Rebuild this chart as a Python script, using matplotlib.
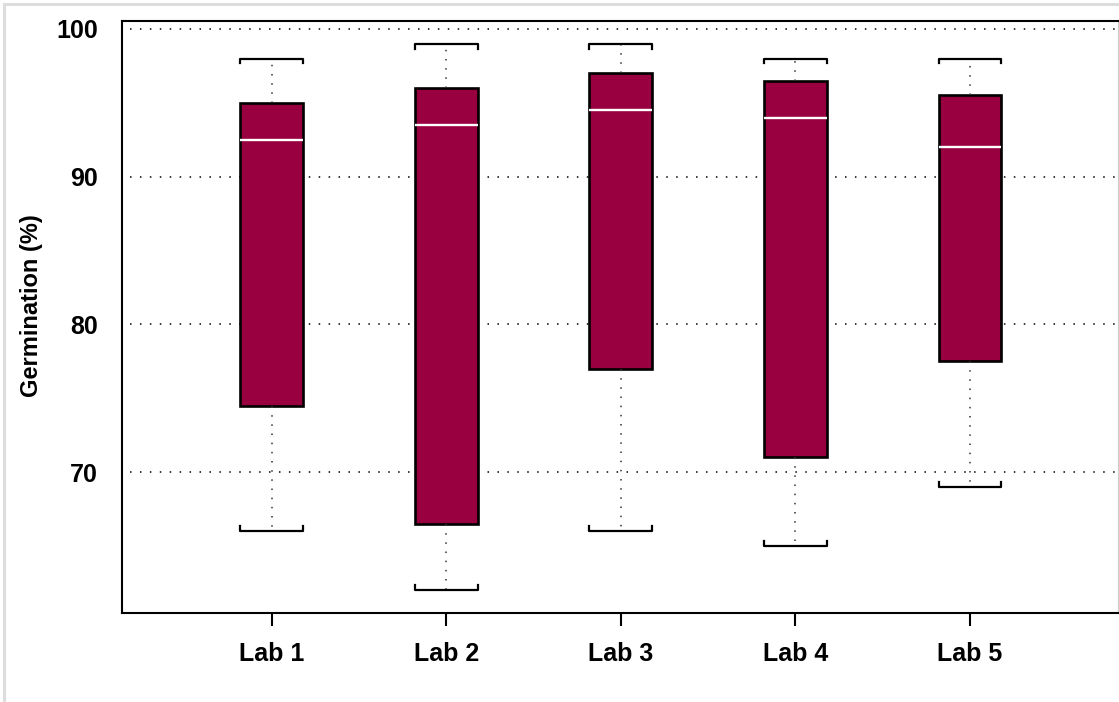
import matplotlib
matplotlib.use('Agg')
import matplotlib.pyplot as plt
from matplotlib.lines import Line2D

# values
labs = ['Lab 1', 'Lab 2', 'Lab 3', 'Lab 4', 'Lab 5']
whisker_low = [66.0, 62.0, 66.0, 65.0, 69.0]
q1 = [74.5, 66.5, 77.0, 71.0, 77.5]
median = [92.5, 93.5, 94.5, 94.0, 92.0]
q3 = [95.0, 96.0, 97.0, 96.5, 95.5]
whisker_high = [98.0, 99.0, 99.0, 98.0, 98.0]
y_ticks = [70, 80, 90, 100]

BOX_COLOR = '#990040'
FONT = ['Liberation Sans Narrow', 'Liberation Sans', 'DejaVu Sans']

plt.rcParams['font.family'] = FONT
plt.rcParams['font.weight'] = 'bold'

fig = plt.figure(figsize=(11.19, 7.02), dpi=100)
ax = fig.add_axes([0.1088, 0.1272, 0.8906, 0.8433])

stats = []
for i, lab in enumerate(labs):
    stats.append({'label': lab, 'whislo': whisker_low[i], 'q1': q1[i],
                  'med': median[i], 'q3': q3[i], 'whishi': whisker_high[i]})

positions = list(range(1, len(labs) + 1))
box_w = 0.36

# grid first so the boxes sit on top
for y in y_ticks:
    ax.axhline(y, xmin=0.008, color='black', lw=1.1, linestyle=(0, (1, 5.5)), zorder=1)

ax.bxp(stats, positions=positions, widths=box_w, patch_artist=True,
       showfliers=False, showcaps=False,
       boxprops=dict(facecolor=BOX_COLOR, edgecolor='black', linewidth=1.9),
       medianprops=dict(color='white', linewidth=1.7),
       whiskerprops=dict(color='#333333', linewidth=1.1, linestyle=(0, (1, 5))),
       zorder=3)

# bracket shaped caps
tip = 0.33
for x, lo, hi in zip(positions, whisker_low, whisker_high):
    x0, x1 = x - box_w / 2, x + box_w / 2
    ax.plot([x0, x0, x1, x1], [hi - tip, hi, hi, hi - tip], color='black',
            lw=1.6, solid_joinstyle='round', zorder=4)
    ax.plot([x0, x0, x1, x1], [lo + tip, lo, lo, lo + tip], color='black',
            lw=1.6, solid_joinstyle='round', zorder=4)

ax.set_xlim(0.14, 5.85)
ax.set_ylim(60.48, 100.56)
ax.set_yticks(y_ticks)
ax.set_xticks(positions)
ax.set_xticklabels(labs)
ax.tick_params(axis='y', length=0, pad=17, labelsize=18)
ax.tick_params(axis='x', length=9, width=1.5, pad=12, labelsize=18)
ax.set_ylabel('Germination (%)', fontsize=17, fontweight='bold')
ax.yaxis.set_label_coords(-0.079, 0.518)

for side in ['left', 'top', 'bottom']:
    ax.spines[side].set_linewidth(1.5)
    ax.spines[side].set_color('black')
ax.spines['right'].set_color('#cccccc')
ax.spines['right'].set_linewidth(0.8)

# light frame around the figure
fig.add_artist(Line2D([4 / 1119, 4 / 1119], [0, 1 - 4 / 702], color='#dddddd',
                      lw=2.2, transform=fig.transFigure))
fig.add_artist(Line2D([4 / 1119, 1], [1 - 4 / 702, 1 - 4 / 702], color='#dddddd',
                      lw=2.2, transform=fig.transFigure))

fig.savefig('out.png', dpi=100)
